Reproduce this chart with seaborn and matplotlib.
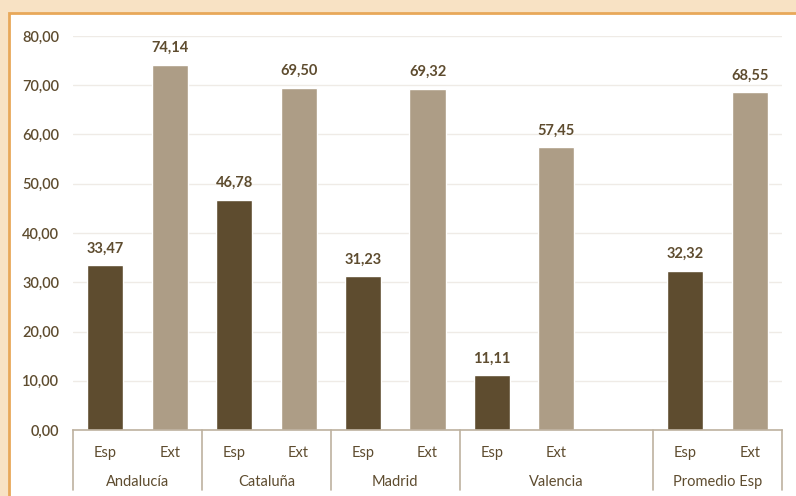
import pandas as pd
import seaborn as sns
import matplotlib
matplotlib.use("Agg")
import matplotlib.pyplot as plt
from matplotlib.patches import Rectangle
from matplotlib.ticker import FuncFormatter

# Datos
regiones = ["Andalucía", "Cataluña", "Madrid", "Valencia", "Promedio Esp"]
esp = [33.47, 46.78, 31.23, 11.11, 32.32]
ext = [74.14, 69.50, 69.32, 57.45, 68.55]
subgrupos = ["Esp", "Ext"]

DARK = "#5E4C2F"
LIGHT = "#AD9D86"
TEXT = "#5E4C2F"
LINE = "#BDB19F"

# Build slot table; Valencia has one extra empty slot
rows = []
for reg, e, x in zip(regiones, esp, ext):
    rows.append({"slot": f"{reg}|Esp", "region": reg, "tipo": "Esp", "valor": e})
    rows.append({"slot": f"{reg}|Ext", "region": reg, "tipo": "Ext", "valor": x})
    if reg == "Valencia":
        rows.append({"slot": f"{reg}|", "region": reg, "tipo": "Esp", "valor": float("nan")})
df = pd.DataFrame(rows)
order = df["slot"].tolist()

sns.set_style("white")
plt.rcParams["font.family"] = ["Lato", "DejaVu Sans"]

fig = plt.figure(figsize=(7.96, 4.96), dpi=100)
fig.patch.set_facecolor("#F8E2C4")
bg = Rectangle((9 / 796, -0.05), 1.0, 1 - 13 / 496 + 0.05,
               transform=fig.transFigure, facecolor="white",
               edgecolor="#E8A85A", linewidth=2, zorder=-10)
fig.add_artist(bg)

ax = fig.add_axes([73 / 796, 1 - 430 / 496, (782 - 73) / 796, (430 - 36) / 496])
ax.set_facecolor("none")

sns.barplot(data=df, x="slot", y="valor", hue="tipo", order=order,
            palette={"Esp": DARK, "Ext": LIGHT}, dodge=False, width=0.56,
            saturation=1, ax=ax, legend=False, errorbar=None)

ax.set_ylim(0, 80)
ax.set_xlim(-0.5, len(order) - 0.5)
ax.set_yticks(range(0, 81, 10))
ax.yaxis.set_major_formatter(FuncFormatter(lambda v, p: f"{v:.2f}".replace(".", ",")))
ax.tick_params(axis="y", length=0, labelsize=10.5, labelcolor=TEXT, pad=10)
ax.set_xticks([])
ax.grid(axis="y", color="#EFEBE6", linewidth=1)
ax.set_axisbelow(True)
for s in ["top", "right", "left"]:
    ax.spines[s].set_visible(False)
ax.spines["bottom"].set_color(LINE)
ax.spines["bottom"].set_linewidth(1.2)
ax.set_xlabel("")
ax.set_ylabel("")
for lab in ax.get_yticklabels():
    lab.set_fontweight("semibold")

# value labels
for i, row in df.iterrows():
    if pd.isna(row["valor"]):
        continue
    ax.annotate(f"{row['valor']:.2f}".replace(".", ","), (i, row["valor"]),
                xytext=(0, 7), textcoords="offset points", ha="center", va="bottom",
                fontsize=10.5, fontweight="bold", color=TEXT)

# multi-level category axis
trans = ax.get_xaxis_transform()
pos = 0
bounds = [-0.5]
for reg in regiones:
    n = 3 if reg == "Valencia" else 2
    for k, sub in enumerate(subgrupos):
        ax.text(pos + k, -0.058, sub, transform=trans, ha="center", va="center",
                fontsize=10.5, color=TEXT)
    center = pos + 0.5 if n == 2 else pos + 1
    ax.text(center, -0.132, reg, transform=trans, ha="center", va="center",
            fontsize=10.5, color=TEXT)
    pos += n
    bounds.append(pos - 0.5)
for b in bounds:
    ax.plot([b, b], [0, -0.152], transform=trans, color=LINE, linewidth=1.2,
            clip_on=False)

plt.savefig("out.png", dpi=100, facecolor=fig.get_facecolor())
